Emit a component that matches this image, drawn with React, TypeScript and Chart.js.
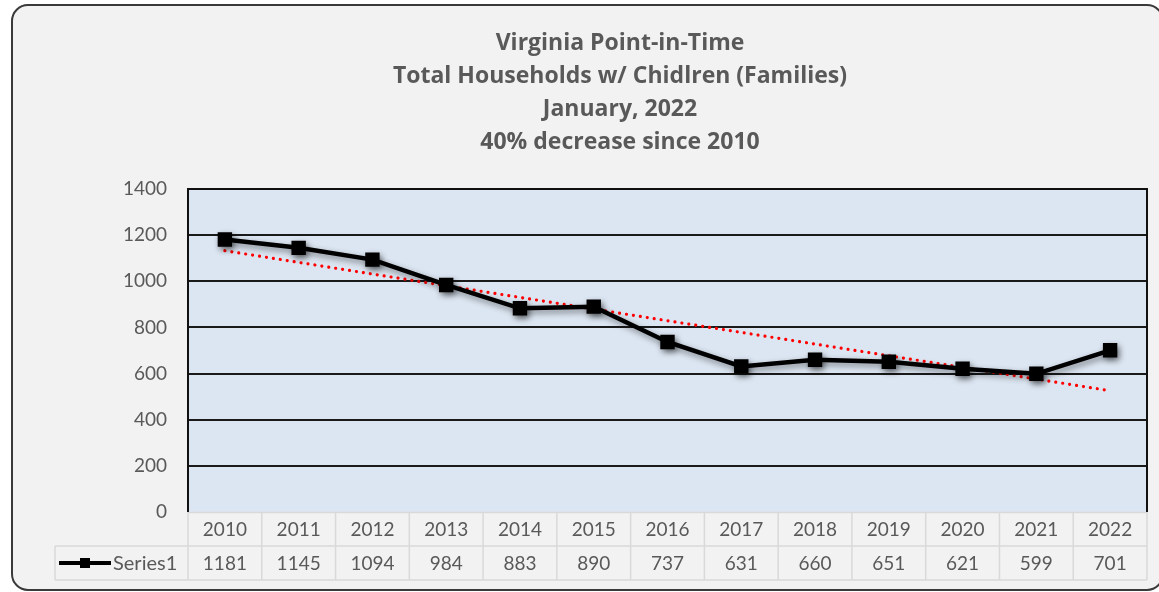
import React, { useEffect, useRef } from "react";
import { Chart, registerables } from "chart.js";

Chart.register(...registerables);

const years = ["2010", "2011", "2012", "2013", "2014", "2015", "2016", "2017", "2018", "2019", "2020", "2021", "2022"];
const families = [1181, 1145, 1094, 984, 883, 890, 737, 631, 660, 651, 621, 599, 701];
const titleLines = ["Virginia Point-in-Time", "Total Households w/ Chidlren (Families)", "January, 2022", "40% decrease since 2010"];
const seriesName = "Series1";
const yMin = 0;
const yMax = 1400;
const yStep = 200;

function linearTrend(values: number[]): number[] {
  const n = values.length;
  const mx = (n - 1) / 2;
  const my = values.reduce((a, b) => a + b, 0) / n;
  let sxy = 0;
  let sxx = 0;
  values.forEach((v, i) => {
    sxy += (i - mx) * (v - my);
    sxx += (i - mx) * (i - mx);
  });
  const slope = sxy / sxx;
  return values.map((_, i) => my + slope * (i - mx));
}

const FONT = "Lato, 'Open Sans', sans-serif";
const TITLE_FONT = "'Open Sans', Lato, sans-serif";
const TEXT = "#595959";

const decorPlugin = {
  id: "decor",
  beforeDraw(chart: any) {
    const { ctx, chartArea } = chart;
    ctx.save();
    const x0 = 12, y0 = 5, x1 = 1163, y1 = 590, r = 16;
    ctx.beginPath();
    ctx.moveTo(x0 + r, y0);
    ctx.lineTo(x1 - r, y0);
    ctx.arcTo(x1, y0, x1, y0 + r, r);
    ctx.lineTo(x1, y1 - r);
    ctx.arcTo(x1, y1, x1 - r, y1, r);
    ctx.lineTo(x0 + r, y1);
    ctx.arcTo(x0, y1, x0, y1 - r, r);
    ctx.lineTo(x0, y0 + r);
    ctx.arcTo(x0, y0, x0 + r, y0, r);
    ctx.closePath();
    ctx.fillStyle = "#f2f2f2";
    ctx.fill();
    ctx.lineWidth = 2;
    ctx.strokeStyle = "#3a3a3a";
    ctx.stroke();
    ctx.fillStyle = "#dce6f2";
    ctx.fillRect(chartArea.left, chartArea.top, chartArea.right - chartArea.left, chartArea.bottom - chartArea.top);
    ctx.fillStyle = TEXT;
    ctx.font = `bold 23px ${TITLE_FONT}`;
    ctx.textAlign = "center";
    ctx.textBaseline = "middle";
    const cx = 620;
    titleLines.forEach((t, i) => ctx.fillText(t, cx, 43 + i * 33.3));
    ctx.restore();
  },
  afterDraw(chart: any) {
    const { ctx, chartArea } = chart;
    const xs = chart.scales.x;
    const n = years.length;
    const w = (chartArea.right - chartArea.left) / n;
    const top = chartArea.bottom;
    const rowH = 34;
    const legendLeft = 55;
    ctx.save();
    ctx.strokeStyle = "#d9d9d9";
    ctx.lineWidth = 1.5;
    ctx.beginPath();
    ctx.moveTo(chartArea.left, top + 0.5);
    ctx.lineTo(chartArea.right, top + 0.5);
    ctx.moveTo(legendLeft, top + rowH);
    ctx.lineTo(chartArea.right, top + rowH);
    ctx.moveTo(legendLeft, top + 2 * rowH);
    ctx.lineTo(chartArea.right, top + 2 * rowH);
    for (let i = 0; i <= n; i++) {
      const x = chartArea.left + i * w;
      ctx.moveTo(x, top);
      ctx.lineTo(x, top + 2 * rowH);
    }
    ctx.moveTo(legendLeft, top + rowH);
    ctx.lineTo(legendLeft, top + 2 * rowH);
    ctx.stroke();
    ctx.fillStyle = TEXT;
    ctx.font = `19px ${FONT}`;
    ctx.textAlign = "center";
    ctx.textBaseline = "middle";
    years.forEach((yr, i) => {
      const x = xs.getPixelForValue(i);
      ctx.fillText(yr, x, top + rowH / 2 + 1);
      ctx.fillText(String(families[i]), x, top + rowH * 1.5 + 1);
    });
    const ly = top + rowH * 1.5;
    ctx.strokeStyle = "#000";
    ctx.lineWidth = 4;
    ctx.beginPath();
    ctx.moveTo(59, ly);
    ctx.lineTo(111, ly);
    ctx.stroke();
    ctx.fillStyle = "#000";
    ctx.fillRect(80, ly - 5, 10, 10);
    ctx.fillStyle = TEXT;
    ctx.textAlign = "left";
    ctx.font = `20px ${FONT}`;
    ctx.fillText(seriesName, 113, ly + 1);
    ctx.strokeStyle = "#111";
    ctx.lineWidth = 2;
    ctx.beginPath();
    ctx.moveTo(chartArea.left, chartArea.bottom);
    ctx.lineTo(chartArea.left, chartArea.top);
    ctx.lineTo(chartArea.right, chartArea.top);
    ctx.lineTo(chartArea.right, chartArea.bottom);
    ctx.stroke();
    ctx.restore();
  },
};

const shadowPlugin = {
  id: "lineShadow",
  beforeDatasetDraw(chart: any, args: any) {
    if (args.index === 0) {
      const ctx = chart.ctx;
      ctx.save();
      ctx.shadowColor = "rgba(0,0,0,0.45)";
      ctx.shadowBlur = 6;
      ctx.shadowOffsetX = 2;
      ctx.shadowOffsetY = 3;
    }
  },
  afterDatasetDraw(chart: any, args: any) {
    if (args.index === 0) chart.ctx.restore();
  },
};

export default function App() {
  const ref = useRef<HTMLCanvasElement | null>(null);
  useEffect(() => {
    if (!ref.current) return;
    const chart = new Chart(ref.current, {
      type: "line",
      data: {
        labels: years,
        datasets: [
          {
            label: seriesName,
            data: families,
            borderColor: "#000",
            backgroundColor: "#000",
            borderWidth: 4.5,
            pointStyle: "rect",
            pointRadius: 7,
            pointHoverRadius: 7,
            tension: 0,
            order: 1,
          },
          {
            label: "Linear (Series1)",
            data: linearTrend(families),
            borderColor: "#ff0000",
            borderWidth: 3.2,
            borderDash: [0.01, 7],
            borderCapStyle: "round",
            pointRadius: 0,
            tension: 0,
            order: 2,
          },
        ],
      },
      options: {
        responsive: false,
        animation: false,
        layout: { padding: { left: 0, right: 12, top: 189, bottom: 80 } },
        plugins: { legend: { display: false }, title: { display: false }, tooltip: { enabled: false } },
        scales: {
          x: { display: false, offset: true },
          y: {
            min: yMin,
            max: yMax,
            ticks: {
              stepSize: yStep,
              color: TEXT,
              font: { family: FONT, size: 19 },
              padding: 21,
              callback: (v: any) => String(v),
            },
            grid: {
              color: (c: any) => (c.tick && c.tick.value === 0 ? "rgba(0,0,0,0)" : "#1a1a1a"),
              lineWidth: 2,
              drawTicks: false,
            },
            border: { display: false },
            afterFit: (s: any) => {
              s.width = 188;
            },
          },
        },
      },
      plugins: [decorPlugin, shadowPlugin],
    });
    return () => chart.destroy();
  }, []);
  return (
    <div style={{ position: "absolute", left: 0, top: 0, width: 1159, height: 592, overflow: "hidden" }}>
      <canvas ref={ref} width={1159} height={592} style={{ display: "block" }} />
    </div>
  );
}
